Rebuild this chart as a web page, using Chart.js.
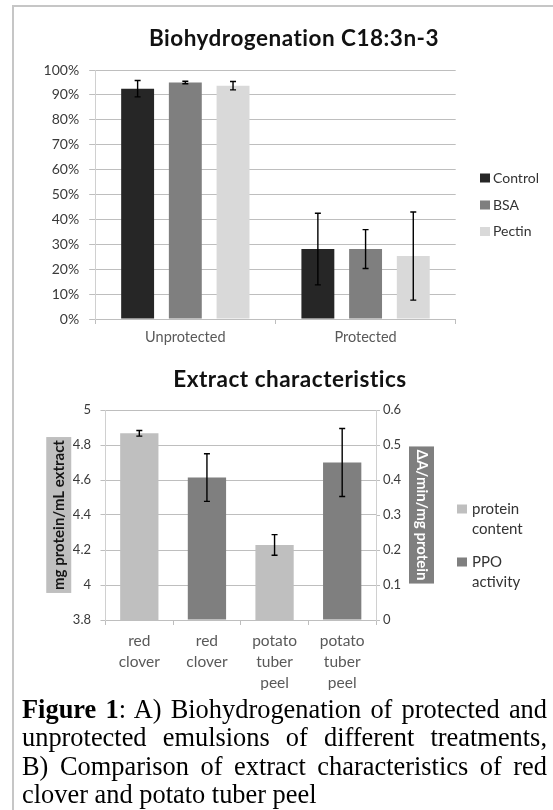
<!DOCTYPE html>
<html>
<head>
<meta charset="utf-8">
<script src="https://cdn.jsdelivr.net/npm/chart.js@4.4.1/dist/chart.umd.min.js"></script>
<style>
  html, body { margin: 0; padding: 0; background: #fff; }
  body { width: 553px; height: 810px; position: relative; overflow: hidden; }
  .frame { position: absolute; left: 12px; top: 5px; width: 600px; height: 900px;
           border-left: 2px solid #c6c6c6; border-top: 2px solid #c6c6c6; }
  canvas { position: absolute; left: 0; top: 0; }
  .caption { position: absolute; left: 22px; top: 695px; width: 525px;
             font-family: "Liberation Serif", "Times New Roman", serif;
             font-size: 26.4px; line-height: 28.3px; color: #000; }
  .caption div { text-align: justify; text-align-last: justify; white-space: nowrap; }
  .caption div.last { text-align-last: left; }
</style>
</head>
<body>
<div class="frame"></div>
<canvas id="bio" width="553" height="810"></canvas>
<canvas id="extract" width="553" height="810"></canvas>
<div class="caption">
  <div><b>Figure 1</b>: A) Biohydrogenation of protected and</div>
  <div>unprotected emulsions of different treatments,</div>
  <div>B) Comparison of extract characteristics of red</div>
  <div class="last">clover and potato tuber peel</div>
</div>
<script>
// chart A: biohydrogenation (%)
const groups = ['Unprotected', 'Protected'];
const control = [92.5, 28.1];
const bsa = [95.0, 28.1];
const pectin = [93.7, 25.3];
const controlErr = [3.3, 14.4];
const bsaErr = [0.5, 7.8];
const pectinErr = [1.7, 17.7];

// chart B: extract characteristics
const extracts = [['red', 'clover'], ['red', 'clover'], ['potato', 'tuber', 'peel'], ['potato', 'tuber', 'peel']];
const proteinContent = [4.867, null, 4.229, null];
const proteinErr = [0.016, null, 0.059, null];
const ppoActivity = [null, 0.407, null, 0.45];
const ppoErr = [null, 0.068, null, 0.097];

const errorBars = {
	id: 'errorBars',
	afterDatasetsDraw(chart) {
		const ctx = chart.ctx;
		ctx.save();
		ctx.strokeStyle = '#000';
		ctx.lineWidth = 1.4;
		chart.data.datasets.forEach((ds, i) => {
			const meta = chart.getDatasetMeta(i);
			const scale = chart.scales[meta.yAxisID];
			meta.data.forEach((bar, j) => {
				const v = ds.data[j], e = ds.errors[j];
				if (v == null || e == null) return;
				const top = scale.getPixelForValue(v + e);
				const bot = scale.getPixelForValue(v - e);
				ctx.beginPath();
				ctx.moveTo(bar.x, top); ctx.lineTo(bar.x, bot);
				ctx.moveTo(bar.x - 3, top); ctx.lineTo(bar.x + 3, top);
				ctx.moveTo(bar.x - 3, bot); ctx.lineTo(bar.x + 3, bot);
				ctx.stroke();
			});
		});
		ctx.restore();
	}
};

// title + legend on the side
const sideLegend = {
	id: 'sideLegend',
	afterDraw(chart, args, opts) {
		const ctx = chart.ctx;
		ctx.save();
		ctx.font = 'bold 22.5px Lato';
		ctx.letterSpacing = '0.5px';
		ctx.fillStyle = '#111';
		ctx.textAlign = 'center';
		ctx.textBaseline = 'alphabetic';
		ctx.fillText(opts.title, opts.titleX, opts.titleY);
		ctx.letterSpacing = '0px';

		ctx.font = opts.size + 'px Lato';
		ctx.textAlign = 'left';
		ctx.textBaseline = 'middle';
		chart.data.datasets.forEach((ds, i) => {
			const y = opts.y[i];
			ctx.fillStyle = ds.backgroundColor;
			ctx.fillRect(opts.x, y - 4.5, 10, 9);
			ctx.fillStyle = '#333';
			const lines = opts.wrap ? ds.label.split(' ') : [ds.label];
			lines.forEach((t, k) => ctx.fillText(t, opts.x + opts.gap, y + k * opts.lineHeight));
		});
		ctx.restore();
	}
};

// filled box behind the axis titles
const axisBoxes = {
	id: 'axisBoxes',
	beforeDraw(chart, args, opts) {
		const ctx = chart.ctx;
		ctx.save();
		Object.keys(opts.colors || {}).forEach(id => {
			const s = chart.scales[id];
			const t = s.options.title;
			const size = t.font.size;
			const off = size * 1.2 / 2 + t.padding.top;
			const cx = s.position === 'left' ? s.left + off : s.right - off;
			const cy = (s.top + s.bottom) / 2;
			ctx.font = 'bold ' + size + 'px Lato';
			const len = ctx.measureText(t.text).width + 6;
			ctx.fillStyle = opts.colors[id];
			ctx.fillRect(cx - 12.5, cy - len / 2, 25, len);
		});
		ctx.restore();
	}
};

const gridColor = '#bebebe';

new Chart(document.getElementById('bio'), {
	type: 'bar',
	data: {
		labels: groups,
		datasets: [
			{ label: 'Control', data: control, errors: controlErr, backgroundColor: '#262626' },
			{ label: 'BSA', data: bsa, errors: bsaErr, backgroundColor: '#7f7f7f' },
			{ label: 'Pectin', data: pectin, errors: pectinErr, backgroundColor: '#d9d9d9' },
		]
	},
	options: {
		responsive: false,
		animation: false,
		events: [],
		datasets: { bar: { categoryPercentage: 0.794, barPercentage: 0.69 } },
		layout: { padding: { left: 0, top: 70, right: 97.3, bottom: 461 } },
		plugins: {
			legend: { display: false },
			tooltip: { enabled: false },
			sideLegend: {
				title: 'Biohydrogenation C18:3n-3', titleX: 294, titleY: 46,
				x: 480, gap: 13, y: [178, 205, 231.5], size: 14, wrap: false, lineHeight: 20
			}
		},
		scales: {
			x: {
				grid: { drawOnChartArea: false, offset: true, tickLength: 5, color: gridColor },
				border: { color: gridColor },
				ticks: { color: '#595959', font: { family: 'Lato', size: 14.5 }, padding: 5 },
				afterFit: s => { s.height = 30; }
			},
			y: {
				min: 0,
				max: 100,
				ticks: { stepSize: 10, callback: v => v + '%', color: '#3a3a3a', font: { family: 'Lato', size: 14 }, padding: 10 },
				grid: { color: gridColor, tickLength: 6 },
				border: { color: '#d0d0d0' },
				afterFit: s => { s.width = 95.2; }
			}
		}
	},
	plugins: [errorBars, sideLegend]
});

new Chart(document.getElementById('extract'), {
	type: 'bar',
	data: {
		labels: extracts,
		datasets: [
			{ label: 'protein content', data: proteinContent, errors: proteinErr, backgroundColor: '#bfbfbf', yAxisID: 'y' },
			{ label: 'PPO activity', data: ppoActivity, errors: ppoErr, backgroundColor: '#7f7f7f', yAxisID: 'y1' },
		]
	},
	options: {
		responsive: false,
		animation: false,
		events: [],
		datasets: { bar: { skipNull: true, categoryPercentage: 0.75, barPercentage: 0.755 } },
		layout: { padding: { left: 40, top: 410, right: 117, bottom: 120 } },
		plugins: {
			legend: { display: false },
			tooltip: { enabled: false },
			sideLegend: {
				title: 'Extract characteristics', titleX: 290, titleY: 386.7,
				x: 457, gap: 15, y: [509, 562], size: 15, wrap: true, lineHeight: 20.5
			},
			axisBoxes: { colors: { y: '#bfbfbf', y1: '#7f7f7f' } }
		},
		scales: {
			x: {
				grid: { drawOnChartArea: false, offset: true, tickLength: 5, color: gridColor },
				border: { color: gridColor },
				ticks: { color: '#595959', font: { family: 'Lato', size: 15.5, lineHeight: 1.35 }, padding: 6 },
				afterFit: s => { s.height = 70; }
			},
			y: {
				position: 'left',
				min: 3.8,
				max: 5,
				ticks: { stepSize: 0.2, callback: v => +v.toFixed(1), color: '#3a3a3a', font: { family: 'Lato', size: 13 }, padding: 9.5 },
				grid: { color: gridColor, tickLength: 5 },
				border: { color: '#d0d0d0' },
				title: { display: true, text: 'mg protein/mL extract', color: '#141414',
					font: { family: 'Lato', size: 15, weight: 'bold' }, padding: { top: 9.75, bottom: 0 } },
				afterFit: s => { s.width = 65.5; }
			},
			y1: {
				position: 'right',
				min: 0,
				max: 0.6,
				ticks: { stepSize: 0.1, callback: v => +v.toFixed(1), color: '#3a3a3a', font: { family: 'Lato', size: 13 }, padding: 3 },
				grid: { drawOnChartArea: false, color: gridColor, tickLength: 4 },
				border: { color: '#d0d0d0' },
				title: { display: true, text: 'ΔA/min/mg protein', color: '#ffffff',
					font: { family: 'Lato', size: 15, weight: 'bold' }, padding: { top: 5.5, bottom: 0 } },
				afterFit: s => { s.width = 60; }
			}
		}
	},
	plugins: [axisBoxes, errorBars, sideLegend]
});
</script>
</body>
</html>
